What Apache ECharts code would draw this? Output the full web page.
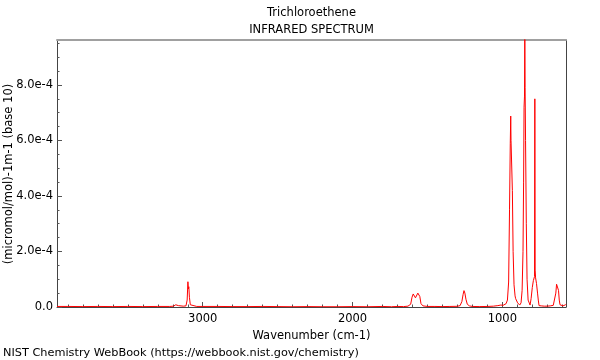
<!DOCTYPE html>
<html><head><meta charset="utf-8">
<script src="https://cdn.jsdelivr.net/npm/echarts@6/dist/echarts.min.js"></script>
<style>html,body{margin:0;padding:0;background:#fff}#c{width:600px;height:360px}</style>
</head><body><div id="c"></div>
<script>
const chartTitle = 'Trichloroethene';
const chartSubtitle = 'INFRARED SPECTRUM';
const xAxisName = 'Wavenumber (cm-1)';
const yAxisName = '(micromol/mol)-1m-1 (base 10)';
const footerText = 'NIST Chemistry WebBook (https://webbook.nist.gov/chemistry)';

const wavenumbers = [
  3973, 3900, 3800, 3700, 3600, 3500, 3400, 3300, 3220, 3195,
  3180, 3172, 3163, 3150, 3130, 3112, 3104, 3099, 3096, 3093,
  3089, 3083, 3070, 3040, 3000, 2900, 2800, 2700, 2600, 2500,
  2400, 2300, 2200, 2100, 2000, 1900, 1800, 1740, 1700, 1660,
  1630, 1612, 1603, 1595, 1588, 1580, 1572, 1564, 1557, 1551,
  1543, 1530, 1500, 1450, 1400, 1350, 1300, 1282, 1270, 1262,
  1256, 1250, 1243, 1234, 1220, 1200, 1150, 1100, 1060, 1030,
  1010, 995, 985, 975, 966, 958, 952, 947, 944, 942,
  937, 933, 928, 922, 915, 911, 898, 884, 875, 868,
  862, 858, 855, 852, 850, 848, 845, 840, 835, 828,
  815, 808, 800, 793, 788, 785, 783, 781, 778, 772,
  765, 760, 755, 740, 720, 700, 680, 660, 650, 643,
  638, 635, 632, 629, 625, 620, 615, 605, 595, 585,
  578, 575
];
const absorbance = [
  0.02e-4, 0.02e-4, 0.015e-4, 0.02e-4, 0.015e-4, 0.02e-4, 0.015e-4, 0.02e-4, 0.02e-4, 0.03e-4,
  0.08e-4, 0.10e-4, 0.05e-4, 0.03e-4, 0.03e-4, 0.04e-4, 0.25e-4, 0.91e-4, 0.65e-4, 0.73e-4,
  0.35e-4, 0.08e-4, 0.03e-4, 0.02e-4, 0.02e-4, 0.02e-4, 0.015e-4, 0.015e-4, 0.02e-4, 0.015e-4,
  0.01e-4, 0.015e-4, 0.01e-4, 0.01e-4, 0.015e-4, 0.01e-4, 0.02e-4, 0.01e-4, 0.02e-4, 0.015e-4,
  0.03e-4, 0.10e-4, 0.35e-4, 0.47e-4, 0.40e-4, 0.33e-4, 0.36e-4, 0.50e-4, 0.55e-4, 0.38e-4,
  0.12e-4, 0.04e-4, 0.02e-4, 0.02e-4, 0.015e-4, 0.02e-4, 0.025e-4, 0.05e-4, 0.20e-4, 0.45e-4,
  0.59e-4, 0.50e-4, 0.28e-4, 0.10e-4, 0.04e-4, 0.02e-4, 0.015e-4, 0.02e-4, 0.03e-4, 0.05e-4,
  0.07e-4, 0.06e-4, 0.10e-4, 0.12e-4, 0.25e-4, 0.9e-4, 3.5e-4, 5.9e-4, 6.88e-4, 6.0e-4,
  5.96e-4, 4.2e-4, 2.0e-4, 0.8e-4, 0.4e-4, 0.3e-4, 0.15e-4, 0.07e-4, 0.15e-4, 0.6e-4,
  2.0e-4, 4.5e-4, 7.2e-4, 7.6e-4, 9.9e-4, 7.9e-4, 6.0e-4, 3.0e-4, 1.0e-4, 0.25e-4,
  0.07e-4, 0.3e-4, 0.7e-4, 0.95e-4, 0.97e-4, 1.1e-4, 7.5e-4, 1.33e-4, 1.05e-4, 0.85e-4,
  0.5e-4, 0.25e-4, 0.05e-4, 0.04e-4, 0.03e-4, 0.03e-4, 0.04e-4, 0.06e-4, 0.12e-4, 0.5e-4,
  0.82e-4, 0.89e-4, 0.86e-4, 0.88e-4, 0.6e-4, 0.25e-4, 0.08e-4, 0.04e-4, 0.04e-4, 0.05e-4,
  0.08e-4, 0.1e-4
];

const xMajorTicks = [1000, 2000, 3000];
const xMinorTicks = [600, 700, 800, 900, 1100, 1200, 1300, 1400, 1500, 1600, 1700, 1800, 1900,
  2100, 2200, 2300, 2400, 2500, 2600, 2700, 2800, 2900, 3100, 3200, 3300, 3400, 3500, 3600, 3700, 3800, 3900];
const yMajorTicks = [0, 2e-4, 4e-4, 6e-4, 8e-4];
const yMinorTicks = [0.5e-4, 1e-4, 1.5e-4, 2.5e-4, 3e-4, 3.5e-4, 4.5e-4, 5e-4, 5.5e-4,
  6.5e-4, 7e-4, 7.5e-4, 8.5e-4, 9e-4, 9.5e-4];
const xMin = 575, xMax = 3973;
const yMin = 0, yMax = 9.62e-4;

const FONT = 'DejaVu Sans';
const axisDark = '#444';

const chart = echarts.init(document.getElementById('c'), null, {renderer: 'canvas'});

function xAx(extra) {
  return Object.assign({
    type: 'value', inverse: true, min: xMin, max: xMax, splitLine: {show: false},
    axisLine: {show: false}, axisTick: {show: false}, axisLabel: {show: false}
  }, extra);
}
function yAx(extra) {
  return Object.assign({
    type: 'value', min: yMin, max: yMax, splitLine: {show: false},
    axisLine: {show: false}, axisTick: {show: false}, axisLabel: {show: false}
  }, extra);
}

chart.setOption({
  animation: false,
  backgroundColor: '#fff',
  grid: {left: 57, right: 34, top: 40, bottom: 53, containLabel: false, outerBoundsMode: 'none'},
  graphic: [
    {type: 'text', x: 311.5, y: 13, style: {text: chartTitle, font: '11.5px "DejaVu Sans"', fill: '#000', textAlign: 'center', textVerticalAlign: 'middle'}},
    {type: 'text', x: 311.5, y: 30, style: {text: chartSubtitle, font: '11.5px "DejaVu Sans"', fill: '#000', textAlign: 'center', textVerticalAlign: 'middle'}},
    {type: 'text', x: 9, y: 174, rotation: Math.PI / 2, style: {text: yAxisName, font: '11.5px "DejaVu Sans"', fill: '#000', textAlign: 'center', textVerticalAlign: 'middle'}},
    {type: 'text', x: 3, y: 353, style: {text: footerText, font: '11.3px "DejaVu Sans"', fill: '#000', textAlign: 'left', textVerticalAlign: 'middle'}}
  ],
  xAxis: [
    xAx({
      position: 'bottom',
      name: xAxisName, nameLocation: 'middle', nameGap: 19,
      nameTextStyle: {fontFamily: FONT, fontSize: 11.5, color: '#000', verticalAlign: 'top'},
      axisLine: {show: true, onZero: false, lineStyle: {color: axisDark, width: 1}},
      axisTick: {show: true, inside: true, length: 5, customValues: xMajorTicks, lineStyle: {color: '#555'}},
      axisLabel: {show: true, margin: 6, customValues: xMajorTicks, fontFamily: FONT, fontSize: 11.5, color: '#000',
        formatter: function (v) { return String(v); }}
    }),
    xAx({
      position: 'bottom',
      axisTick: {show: true, inside: true, length: 2.5, customValues: xMinorTicks, lineStyle: {color: '#555'}}
    }),
    xAx({
      position: 'top',
      axisLine: {show: true, onZero: false, lineStyle: {color: '#a0a0a0', width: 2}}
    })
  ],
  yAxis: [
    yAx({
      position: 'left',
      axisLine: {show: true, onZero: false, lineStyle: {color: axisDark, width: 1}},
      axisTick: {show: true, inside: true, length: 5, customValues: yMajorTicks, lineStyle: {color: '#555'}},
      axisLabel: {show: true, margin: 4, customValues: yMajorTicks, fontFamily: FONT, fontSize: 11.5, color: '#000',
        formatter: function (v) { return v === 0 ? '0.0' : v.toExponential(1); }}
    }),
    yAx({
      position: 'left',
      axisTick: {show: true, inside: true, length: 2.5, customValues: yMinorTicks, lineStyle: {color: '#555'}}
    }),
    yAx({
      position: 'right',
      axisLine: {show: true, onZero: false, lineStyle: {color: axisDark, width: 1}}
    })
  ],
  series: [{
    type: 'line',
    xAxisIndex: 0, yAxisIndex: 0,
    data: wavenumbers.map(function (w, i) { return [w, absorbance[i]]; }),
    showSymbol: false, symbol: 'none', clip: true,
    lineStyle: {color: '#ff0000', width: 1},
    silent: true
  }]
});
</script></body></html>
